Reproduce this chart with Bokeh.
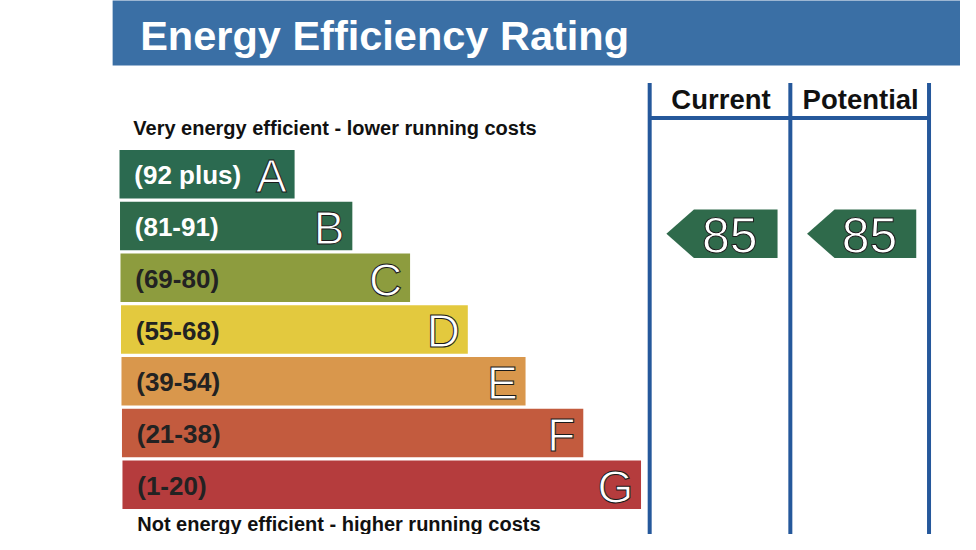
from bokeh.plotting import figure
from bokeh.models import Range1d
from bokeh.core.properties import value
from bokeh.embed import file_html
from bokeh.resources import INLINE

# ---- data ----
bands = ["A", "B", "C", "D", "E", "F", "G"]
band_ranges = ["(92 plus)", "(81-91)", "(69-80)", "(55-68)", "(39-54)", "(21-38)", "(1-20)"]
band_lower = [92, 81, 69, 55, 39, 21, 1]
band_colors = ["#2b6a50", "#2f6a4b", "#8d9c3e", "#e3c93e", "#d9974c", "#c35b3e", "#b53c3d"]
range_text_colors = ["white", "white", "#222222", "#222222", "#222222", "#222222", "#222222"]
columns = ["Current", "Potential"]
ratings = [85, 85]
title = "Energy Efficiency Rating"
top_note = "Very energy efficient - lower running costs"
bottom_note = "Not energy efficient - higher running costs"

FONT = value("Liberation Sans")

# ---- figure: data space = reference picture pixels ----
p = figure(width=960, height=534, output_backend="svg", toolbar_location=None,
           x_range=Range1d(0, 976), y_range=Range1d(550, 0), min_border=0)
p.axis.visible = False
p.grid.visible = False
p.outline_line_color = None
p.background_fill_color = "white"
p.border_fill_color = "white"

# title banner
p.quad(left=[114], right=[990], top=[-5], bottom=[67], fill_color="#3a6fa5", line_color=None)
p.text(x=[142], y=[36], text=[title], text_color="white", text_font=FONT,
       text_font_style="bold", text_font_size="41.5px", text_baseline="middle", text_align="left")

# notes
p.text(x=[135], y=[131], text=[top_note], text_color="#111111", text_font=FONT,
       text_font_style="bold", text_font_size="20px", text_baseline="middle")
p.text(x=[139], y=[550], text=[bottom_note], text_color="#111111", text_font=FONT,
       text_font_style="bold", text_font_size="20px", text_baseline="bottom")

# bands
row0, pitch, bar_h = 154, 53.3, 50
left0, right0, step = 121, 299, 58.7
tops = [row0 + i * pitch for i in range(len(bands))]
bottoms = [t + bar_h for t in tops]
rights = [right0 + i * step for i in range(len(bands))]
lefts = [left0 + i * 0.5 for i in range(len(bands))]
mids = [t + bar_h / 2 for t in tops]
p.quad(left=lefts, right=rights, top=tops, bottom=bottoms, fill_color=band_colors, line_color=None)
p.text(x=[l + 15 for l in lefts], y=[m + 1 for m in mids], text=band_ranges,
       text_color=range_text_colors, text_font=FONT, text_font_style="bold",
       text_font_size="26px", text_baseline="middle")
p.text(x=[r - 8 for r in rights], y=[m + 2 for m in mids], text=bands,
       text_color="white", text_font=FONT, text_font_size="46px",
       text_baseline="middle", text_align="right",
       text_outline_color="#1a1a1a")

# columns
col_x = [660, 803, 944]
line_col = "#25589b"
p.segment(x0=col_x, y0=[85] * 3, x1=col_x, y1=[560] * 3, line_color=line_col, line_width=4)
p.segment(x0=[col_x[0]], y0=[121], x1=[col_x[-1]], y1=[121], line_color=line_col, line_width=4)
p.text(x=[(col_x[i] + col_x[i + 1]) / 2 + 1 for i in range(2)], y=[102, 102], text=columns,
       text_color="#111111", text_font=FONT, text_font_style="bold", text_font_size="27.5px",
       text_baseline="middle", text_align="center")

# rating arrows
def band_index(r):
    for i, lo in enumerate(band_lower):
        if r >= lo:
            return i
    return len(band_lower) - 1

xs, ys, tx, ty = [], [], [], []
for i, r in enumerate(ratings):
    bi = band_index(r)
    cy = mids[bi] + 8
    tip = col_x[i] + 17
    body = tip + 28
    end = col_x[i + 1] - 13
    xs.append([tip, body, end, end, body])
    ys.append([cy, cy - 25, cy - 25, cy + 25, cy + 25])
    tx.append((body + end) / 2 - 6)
    ty.append(cy + 2)
p.patches(xs=xs, ys=ys, fill_color=band_colors[band_index(ratings[0])], line_color=None)
p.text(x=tx, y=ty, text=[str(r) for r in ratings], text_color="white", text_font=FONT,
       text_font_size="50px", text_baseline="middle", text_align="center",
       text_outline_color="#1a1a1a")

open("out.html", "w").write(file_html(p, INLINE))
